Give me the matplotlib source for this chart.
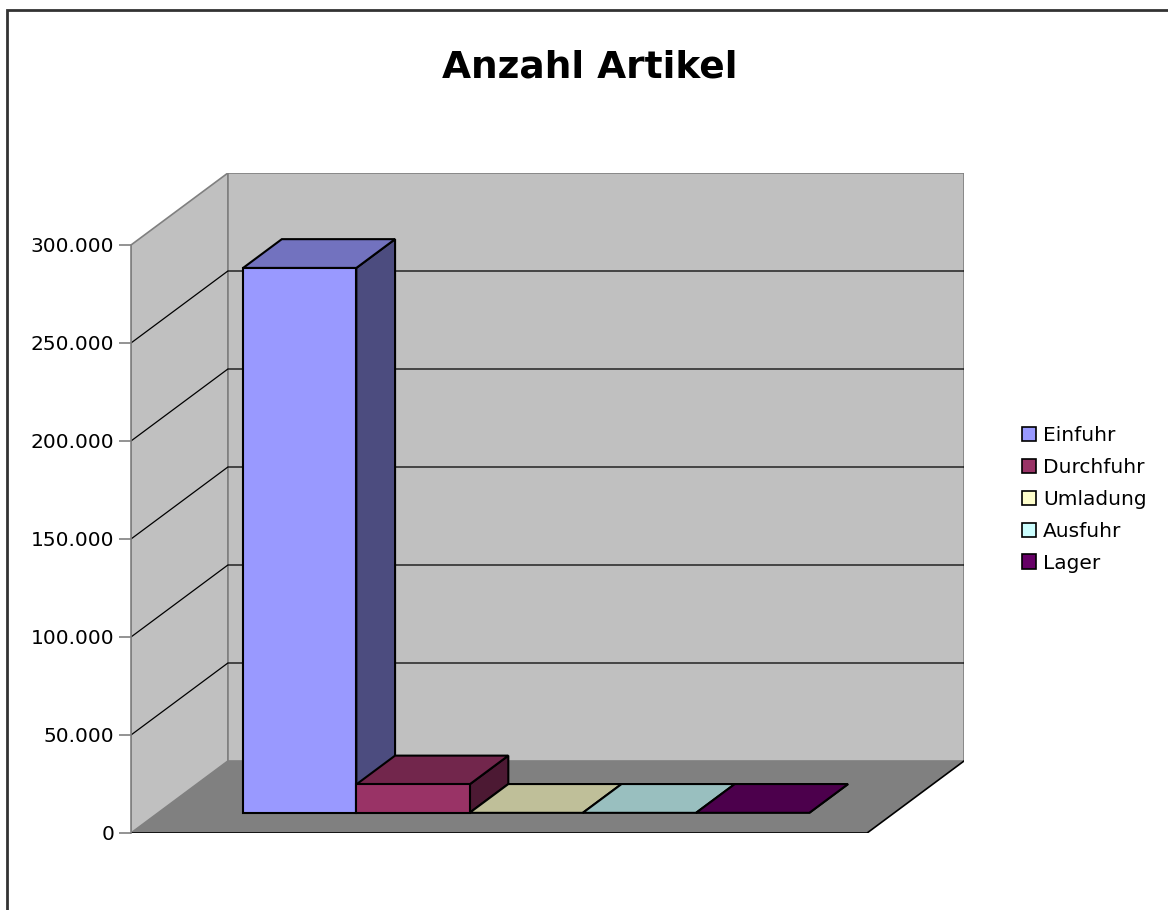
import matplotlib.pyplot as plt
from matplotlib.patches import Polygon, Rectangle, Patch

# data
series = ["Einfuhr", "Durchfuhr", "Umladung", "Ausfuhr", "Lager"]
values = [278000, 14500, 0, 0, 0]
colors = ["#9999FF", "#993366", "#FFFFCC", "#CCFFFF", "#660066"]
yticks = [0, 50000, 100000, 150000, 200000, 250000, 300000]
ytick_labels = ["0", "50.000", "100.000", "150.000", "200.000", "250.000", "300.000"]

ymax = 300000
# fake 3d: depth offset in data units
DX = 97 / 737
DY = 72 * ymax / 588
gap = 1.5
w = 1 / (len(series) + gap)
d0, d1 = 0.28, 0.68


def shade(c, f):
    r, g, b = [int(c[i:i + 2], 16) for i in (1, 3, 5)]
    return "#%02x%02x%02x" % (int(r * f), int(g * f), int(b * f))


def P(x, y, d):
    return (x + d * DX, y + d * DY)


fig = plt.figure(figsize=(11.68, 9.10), dpi=100)
ax = fig.add_axes([131 / 1168, 1 - 833 / 910, (964 - 131) / 1168, (833 - 173) / 910])
ax.set_xlim(0, 1 + DX)
ax.set_ylim(0, ymax + DY)
ax.patch.set_alpha(0)

# walls and floor
ax.add_patch(Polygon([P(0, 0, 0), P(0, ymax, 0), P(0, ymax, 1), P(0, 0, 1)],
                     closed=True, fc="#C0C0C0", ec="#808080", lw=1.2, zorder=1))
ax.add_patch(Polygon([P(0, 0, 1), P(1, 0, 1), P(1, ymax, 1), P(0, ymax, 1)],
                     closed=True, fc="#C0C0C0", ec="#808080", lw=1.2, zorder=1))
ax.add_patch(Polygon([P(0, 0, 0), P(1, 0, 0), P(1, 0, 1), P(0, 0, 1)],
                     closed=True, fc="#808080", ec="none", zorder=1))
ax.plot(*zip(P(0, 0, 0), P(1, 0, 0), P(1, 0, 1)), color="black", lw=1.2, zorder=2)

# gridlines on side and back wall
for v in yticks[1:-1]:
    ax.plot(*zip(P(0, v, 0), P(0, v, 1), P(1, v, 1)), color="black", lw=0.9, zorder=2)

# bars
for i, (v, c) in enumerate(zip(values, colors)):
    x0 = w * gap / 2 + i * w
    x1 = x0 + w
    front = [P(x0, 0, d0), P(x1, 0, d0), P(x1, v, d0), P(x0, v, d0)]
    top = [P(x0, v, d0), P(x1, v, d0), P(x1, v, d1), P(x0, v, d1)]
    side = [P(x1, 0, d0), P(x1, 0, d1), P(x1, v, d1), P(x1, v, d0)]
    z = 3 + i
    ax.add_patch(Polygon(side, closed=True, fc=shade(c, 0.5), ec="black", lw=1.5, zorder=z))
    ax.add_patch(Polygon(top, closed=True, fc=shade(c, 0.75), ec="black", lw=1.5, zorder=z))
    if v > 0:
        ax.add_patch(Polygon(front, closed=True, fc=c, ec="black", lw=1.5, zorder=z))

# axis
for s in ["top", "right", "bottom"]:
    ax.spines[s].set_visible(False)
ax.spines["left"].set_bounds(0, ymax)
ax.spines["left"].set_color("#808080")
ax.spines["left"].set_linewidth(1.2)
ax.spines["left"].set_zorder(2.5)
ax.set_xticks([])
ax.set_yticks(yticks)
ax.set_yticklabels(ytick_labels)
ax.tick_params(axis="y", length=9, width=1.2, color="#808080", labelsize=14.5, pad=3, labelcolor="black")

fig.text(590 / 1168, 1 - 77 / 910, "Anzahl Artikel", ha="center", va="baseline",
         fontsize=27, fontweight="bold")

handles = [Patch(fc=c, ec="black", lw=1.2) for c in colors]
fig.legend(handles, series, loc="upper left", bbox_to_anchor=(1022 / 1168, 1 - 426 / 910),
           frameon=False, fontsize=14.5, handlelength=0.7, handleheight=0.7,
           handletextpad=0.35, labelspacing=0.64, borderaxespad=0, borderpad=0)

# chart border
fig.patches.append(Rectangle((7 / 1168, -0.1), 1.2, 1 - 10 / 910 + 0.1,
                             transform=fig.transFigure, fill=False, ec="#333333", lw=2))

fig.savefig("out.png", dpi=100)
